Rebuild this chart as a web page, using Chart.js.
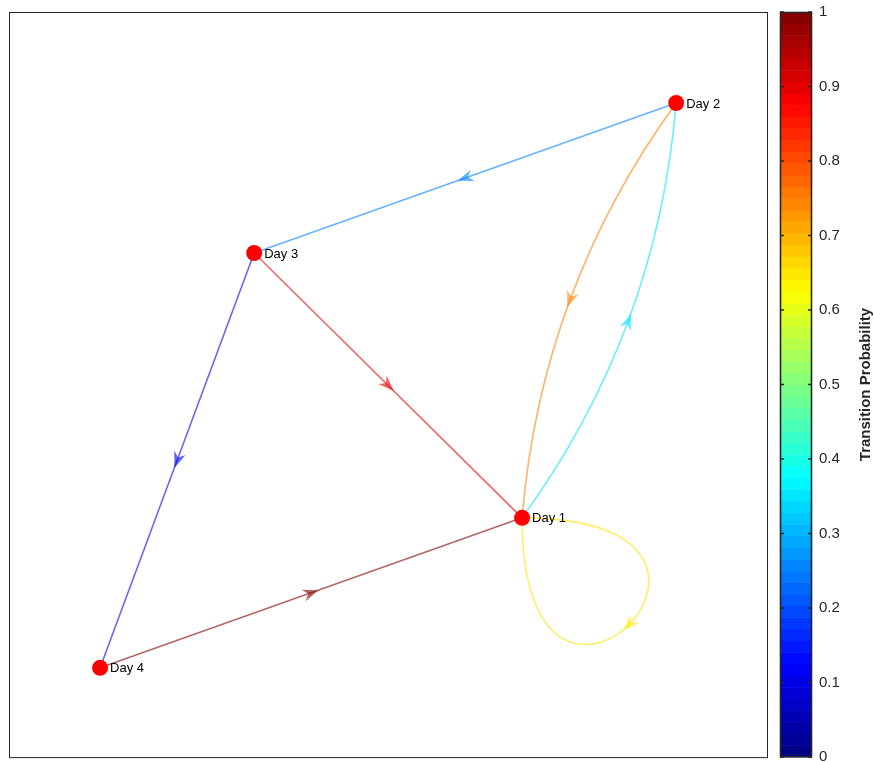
<!DOCTYPE html>
<html><head><meta charset="utf-8">
<script src="https://cdn.jsdelivr.net/npm/chart.js@4/dist/chart.umd.min.js"></script>
<style>html,body{margin:0;padding:0;background:#fff;overflow:hidden}#w{width:874px;height:762px}</style>
</head><body><div id="w"><canvas id="c"></canvas></div>
<script>
const nodes = ['Day 1','Day 2','Day 3','Day 4'];
const nodeX = [67.6, 87.9, 32.3, 12.0];
const nodeY = [32.2, 87.8, 67.7, 12.1];
const edgeFrom = [0, 0, 1, 1, 2, 2, 3];
const edgeTo   = [0, 1, 0, 2, 0, 3, 0];
const edgeProb = [0.65, 0.35, 0.75, 0.25, 0.9, 0.1, 1.0];
const cbTicks = [0,0.1,0.2,0.3,0.4,0.5,0.6,0.7,0.8,0.9,1];

function jet(v){
  const c=x=>Math.max(0,Math.min(1,x));
  return [c(1.5-Math.abs(4*v-3)),c(1.5-Math.abs(4*v-2)),c(1.5-Math.abs(4*v-1))].map(x=>Math.round(x*255));
}
function arrow(ctx,x,y,ang,col){
  ctx.save();ctx.translate(x,y);ctx.rotate(ang);ctx.fillStyle=col;
  ctx.beginPath();ctx.moveTo(8,0);ctx.lineTo(-8,-6);ctx.lineTo(-3,0);ctx.lineTo(-8,6);ctx.closePath();ctx.fill();ctx.restore();
}
const graphPlugin={id:'graph',
  beforeDatasetsDraw(ch){
    const ctx=ch.ctx,xs=ch.scales.x,ys=ch.scales.y,ca=ch.chartArea;
    ctx.save();
    const bot=ys.getPixelForValue(0);
    ctx.strokeStyle='#262626';ctx.lineWidth=1;ctx.strokeRect(ca.left+0.5,ca.top+0.5,ca.right-ca.left-1,bot-ca.top-1);
    const px=i=>[xs.getPixelForValue(nodeX[i]),ys.getPixelForValue(nodeY[i])];
    edgeFrom.forEach((f,k)=>{
      const t=edgeTo[k],[r,g,b]=jet(edgeProb[k]),col=`rgba(${r},${g},${b},0.6)`;
      const [x0,y0]=px(f),[x1,y1]=px(t);
      ctx.strokeStyle=col;ctx.lineWidth=1.6;ctx.beginPath();
      let mx,my,ang;
      if(f===t){
        const a=285*(ca.right-ca.left)/759;
        ctx.moveTo(x0,y0);ctx.bezierCurveTo(x0+a,y0,x0,y0+a,x0,y0);
        mx=x0+3*a/8;my=y0+3*a/8;ang=Math.atan2(3*a*0.25,-3*a*0.25);
      } else {
        const hasRev=edgeFrom.some((ff,j)=>ff===t&&edgeTo[j]===f);
        if(hasRev){
          const dx=x1-x0,dy=y1-y0,L=Math.hypot(dx,dy);
          const nx=-dy/L,ny=dx/L,off=0.14*L;
          const cx=(x0+x1)/2+nx*off,cy=(y0+y1)/2+ny*off;
          ctx.moveTo(x0,y0);ctx.quadraticCurveTo(cx,cy,x1,y1);
          mx=(x0+2*cx+x1)/4;my=(y0+2*cy+y1)/4;ang=Math.atan2(y1-y0,x1-x0);
        } else {
          ctx.moveTo(x0,y0);ctx.lineTo(x1,y1);
          mx=(x0+x1)/2;my=(y0+y1)/2;ang=Math.atan2(y1-y0,x1-x0);
        }
      }
      ctx.stroke();arrow(ctx,mx,my,ang,col);
    });
    const L=780,R=812,T=12,B=757,n=64;
    for(let i=0;i<n;i++){const [r,g,b]=jet((i+0.5)/n);ctx.fillStyle=`rgb(${r},${g},${b})`;
      const y2=B-(B-T)*i/n,y1=B-(B-T)*(i+1)/n;ctx.fillRect(L,y1,R-L,y2-y1+0.5);}
    ctx.strokeStyle='#262626';ctx.strokeRect(L+0.5,T+0.5,R-L-1,B-T-1);
    ctx.fillStyle='#262626';ctx.font='15px "Liberation Sans", Arial';ctx.textBaseline='middle';ctx.textAlign='left';
    cbTicks.forEach(v=>{const y=B-(B-T)*v;ctx.beginPath();ctx.moveTo(L,y);ctx.lineTo(L+4,y);ctx.moveTo(R,y);ctx.lineTo(R-4,y);ctx.stroke();
      ctx.fillText(String(v),819,y);});
    ctx.save();ctx.translate(866,(T+B)/2);ctx.rotate(-Math.PI/2);ctx.textAlign='center';ctx.font='bold 15px "Liberation Sans", Arial';
    ctx.fillText('Transition Probability',0,0);ctx.restore();
    ctx.restore();
  },
  afterDatasetsDraw(ch){
    const ctx=ch.ctx,xs=ch.scales.x,ys=ch.scales.y;
    ctx.save();ctx.fillStyle='#000';ctx.font='13px "Liberation Sans", Arial';ctx.textBaseline='middle';
    nodes.forEach((nm,i)=>ctx.fillText(nm,xs.getPixelForValue(nodeX[i])+10,ys.getPixelForValue(nodeY[i])+1));
    ctx.restore();
  }};
new Chart(document.getElementById('c'),{type:'scatter',
  data:{datasets:[{data:nodes.map((n,i)=>({x:nodeX[i],y:nodeY[i]})),pointRadius:8,pointBackgroundColor:'#ff0000',pointBorderWidth:0,pointHoverRadius:8}]},
  options:{responsive:true,maintainAspectRatio:false,animation:false,
    layout:{padding:{left:9,top:12,right:106,bottom:0}},
    plugins:{legend:{display:false},tooltip:{enabled:false}},
    scales:{x:{type:'linear',min:0,max:100,display:false},y:{type:'linear',min:0.55,max:100,display:false}}},
  plugins:[graphPlugin]});
</script></body></html>
